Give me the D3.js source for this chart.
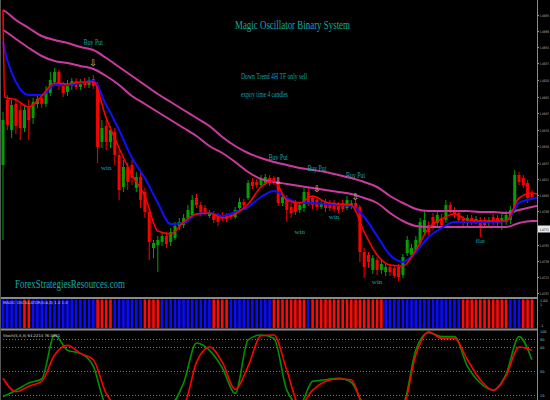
<!DOCTYPE html>
<html>
<head>
<meta charset="utf-8">
<script src="https://cdn.jsdelivr.net/npm/d3@7"></script>
<style>
body { margin: 0; background: #000; }
svg { display: block; }
</style>
</head>
<body>
<div id="chart"></div>
<script>
// price candles, one per bar
var opens = [1.4835,1.4900,1.4870,1.4896,1.4890,1.4872,1.4892,1.4882,1.4896,1.4902,1.4896,1.4907,1.4918,1.4928,1.4915,1.4908,1.4914,1.4919,1.4913,1.4918,1.4915,1.4921,
  1.4914,1.4858,1.4874,1.4858,1.4868,1.4845,1.4813,1.4833,1.4835,1.4812,1.4823,1.4808,1.4788,1.4752,1.4755,1.4758,1.4764,1.4758,1.4762,1.4774,1.4775,1.4782,1.4785,
  1.4802,1.4795,1.4792,1.4784,1.4786,1.4784,1.4785,1.4784,1.4785,1.4783,1.4792,1.4798,1.4802,1.4818,1.4818,1.4815,1.4817,1.4822,1.4822,1.4817,1.4797,1.4802,1.4793,
  1.4797,1.4790,1.4792,1.4808,1.4802,1.4800,1.4793,1.4798,1.4797,1.4796,1.4795,1.4797,1.4792,1.4794,1.4797,1.4793,1.4748,1.4745,1.4730,1.4740,1.4730,1.4728,1.4733,
  1.4732,1.4733,1.4725,1.4747,1.4745,1.4750,1.4757,1.4768,1.4775,1.4783,1.4777,1.4782,1.4780,1.4795,1.4790,1.4787,1.4781,1.4777,1.4782,1.4778,1.4780,1.4780,1.4777,
  1.4783,1.4782,1.4778,1.4778,1.4780,1.4790,1.4825,1.4822,1.4817,1.4807];
var highs = [1.4888,1.4905,1.4900,1.4902,1.4896,1.4895,1.4900,1.4902,1.4905,1.4906,1.4914,1.4928,1.4932,1.4930,1.4918,1.4920,1.4922,1.4922,1.4921,1.4922,1.4923,1.4925,
  1.4918,1.4880,1.4880,1.4874,1.4872,1.4850,1.4840,1.4837,1.4840,1.4828,1.4828,1.4812,1.4792,1.4760,1.4764,1.4768,1.4768,1.4772,1.4778,1.4782,1.4786,1.4795,1.4805,
  1.4806,1.4798,1.4795,1.4790,1.4789,1.4787,1.4788,1.4787,1.4787,1.4793,1.4802,1.4801,1.4820,1.4822,1.4821,1.4825,1.4826,1.4825,1.4824,1.4822,1.4806,1.4805,1.4797,
  1.4800,1.4798,1.4812,1.4812,1.4805,1.4803,1.4800,1.4801,1.4800,1.4800,1.4798,1.4800,1.4804,1.4800,1.4800,1.4795,1.4752,1.4748,1.4745,1.4743,1.4740,1.4737,1.4736,
  1.4735,1.4736,1.4746,1.4764,1.4756,1.4764,1.4782,1.4790,1.4779,1.4787,1.4788,1.4786,1.4800,1.4798,1.4793,1.4790,1.4784,1.4785,1.4785,1.4784,1.4783,1.4783,1.4783,
  1.4786,1.4785,1.4786,1.4789,1.4794,1.4830,1.4828,1.4825,1.4820,1.4810];
var lows = [1.4760,1.4870,1.4862,1.4866,1.4860,1.4868,1.4860,1.4876,1.4892,1.4892,1.4893,1.4904,1.4914,1.4910,1.4903,1.4904,1.4910,1.4910,1.4910,1.4912,1.4912,1.4911,
  1.4837,1.4852,1.4850,1.4852,1.4835,1.4800,1.4808,1.4810,1.4815,1.4808,1.4792,1.4782,1.4740,1.4742,1.4728,1.4754,1.4752,1.4754,1.4760,1.4770,1.4772,1.4778,1.4782,
  1.4792,1.4784,1.4785,1.4782,1.4777,1.4774,1.4779,1.4778,1.4780,1.4781,1.4790,1.4792,1.4800,1.4811,1.4812,1.4813,1.4815,1.4814,1.4815,1.4794,1.4794,1.4778,1.4782,
  1.4785,1.4787,1.4788,1.4794,1.4791,1.4790,1.4791,1.4788,1.4789,1.4788,1.4787,1.4788,1.4790,1.4791,1.4788,1.4738,1.4722,1.4732,1.4726,1.4725,1.4726,1.4724,1.4724,
  1.4722,1.4719,1.4722,1.4744,1.4742,1.4747,1.4754,1.4765,1.4765,1.4770,1.4774,1.4772,1.4777,1.4787,1.4782,1.4777,1.4774,1.4774,1.4775,1.4776,1.4763,1.4772,1.4774,
  1.4775,1.4774,1.4770,1.4775,1.4776,1.4787,1.4815,1.4812,1.4797,1.4800];
var closes = [1.4880,1.4875,1.4895,1.4874,1.4872,1.4890,1.4880,1.4898,1.4901,1.4896,1.4908,1.4920,1.4928,1.4914,1.4907,1.4916,1.4919,1.4913,1.4918,1.4915,1.4920,1.4914,
  1.4853,1.4872,1.4858,1.4870,1.4845,1.4810,1.4833,1.4818,1.4822,1.4823,1.4800,1.4788,1.4758,1.4757,1.4760,1.4764,1.4756,1.4768,1.4774,1.4778,1.4782,1.4790,1.4800,
  1.4795,1.4788,1.4788,1.4787,1.4780,1.4778,1.4782,1.4781,1.4783,1.4790,1.4798,1.4795,1.4817,1.4814,1.4815,1.4822,1.4823,1.4817,1.4818,1.4797,1.4803,1.4790,1.4787,
  1.4788,1.4795,1.4808,1.4797,1.4795,1.4793,1.4797,1.4792,1.4792,1.4791,1.4790,1.4791,1.4800,1.4797,1.4792,1.4748,1.4733,1.4738,1.4742,1.4730,1.4736,1.4733,1.4728,
  1.4724,1.4723,1.4743,1.4760,1.4752,1.4760,1.4778,1.4780,1.4768,1.4773,1.4785,1.4775,1.4795,1.4790,1.4785,1.4780,1.4777,1.4782,1.4778,1.4781,1.4773,1.4775,1.4780,
  1.4778,1.4777,1.4782,1.4785,1.4790,1.4825,1.4818,1.4815,1.4802,1.4803];

// moving averages and envelope, read at these bars
var maBars = [0,0.4,3,6,9,12,15,18,21,24,27,30,33,36,39,42,45,48,51,54,57,60,63,66,69,72,75,78,81,84,87,90,93,96,99,102,105,108,111,114,117,120,123,124.2];
var fastMA = [1.4990,1.4903,1.4900,1.4893,1.4904,1.4917,1.4916,1.4918,1.4918,1.4882,1.4852,1.4825,1.4804,1.4769,1.4766,1.4778,1.4786,1.4787,1.4782,1.4786,1.4796,1.4813,
  1.4819,1.4800,1.4797,1.4804,1.4798,1.4796,1.4795,1.4768,1.4745,1.4735,1.4734,1.4750,1.4772,1.4781,1.4786,1.4780,1.4779,1.4779,1.4779,1.4802,1.4807,1.4806];
var slowMA = [1.4958,1.4950,1.4918,1.4905,1.4905,1.4915,1.4915,1.4917,1.4919,1.4895,1.4870,1.4842,1.4822,1.4797,1.4776,1.4777,1.4786,1.4787,1.4784,1.4788,1.4793,1.4803,
  1.4809,1.4802,1.4797,1.4797,1.4796,1.4795,1.4794,1.4783,1.4764,1.4745,1.4738,1.4748,1.4763,1.4772,1.4778,1.4778,1.4778,1.4778,1.4779,1.4797,1.4801,1.4802];
var bandUpper = [1.4990,1.4989,1.4980,1.4972,1.4964,1.4960,1.4957,1.4953,1.4950,1.4942,1.4933,1.4924,1.4915,1.4906,1.4898,1.4890,1.4882,1.4874,1.4863,1.4854,1.4847,1.4842,
  1.4838,1.4835,1.4832,1.4830,1.4828,1.4825,1.4822,1.4818,1.4813,1.4804,1.4797,1.4791,1.4789,1.4789,1.4789,1.4789,1.4788,1.4788,1.4787,1.4790,1.4793,1.4794];
var bandLower = [1.4970,1.4969,1.4961,1.4952,1.4944,1.4939,1.4937,1.4934,1.4931,1.4924,1.4915,1.4904,1.4896,1.4888,1.4880,1.4872,1.4864,1.4854,1.4847,1.4838,1.4828,1.4821,
  1.4818,1.4816,1.4814,1.4812,1.4810,1.4808,1.4806,1.4802,1.4797,1.4787,1.4779,1.4774,1.4773,1.4773,1.4773,1.4773,1.4773,1.4773,1.4773,1.4777,1.4779,1.4779];

var priceTicks = [1.4985,1.4969,1.4953,1.4937,1.4920,1.4903,1.4887,1.4870,1.4854,1.4837,1.4821,1.4805,1.4789,1.4755,1.4739,1.4723,1.4707];
var lastPrice = 1.4771;

// signals
var putBars = [21, 64, 73, 82];
var putLabelPrice = [1.4958, 1.4843, 1.4832, 1.4825];
var putArrowPrice = [1.4938, 1.4820, 1.4812, 1.4804];
var resultBars = [24, 69, 77, 87, 111];
var resultPrice = [1.4833, 1.4769, 1.4784, 1.4719, 1.4760];
var resultText = ["win", "win", "win", "win", "flat"];

// magic oscillator colour per bar (B up, R down)
var oscColors = ("BBBBBRRBBBBBBBBBBBBBBBRRRRBBBBBBBRRRRBBBBBBBBBBBBRRRRBBBBBBBBBBRRRRRRRRB" +
  "RRRRRRRRRRRRRRRRRBBBBBBBBBBBBBBBBBBRRRRRRRRRRRBBBRRR").split("");
var oscTicks = ["1.00", "1", "-1"];

// stochastic, read at these bars
var stochBars = [0,3,6,9,12,15,18,21,24,27,30,33,36,39,42,45,48,51,54,57,60,63,66,69,72,75,78,81,84,87,90,93,96,99,102,105,108,111,114,117,120,123];
var stochK = [18,26,35,40,95,76,72,56,8,5,3,4,6,8,35,85,76,54,22,89,95,91,26,8,37,39,41,36,8,3,3,8,76,98,93,93,56,35,26,46,93,64];
var stochD = [41,24,31,37,70,82,72,64,22,5,3,3,4,6,8,61,80,61,27,56,94,95,51,7,26,37,40,39,5,2,2,5,70,99,91,91,64,39,26,44,80,76];
var stochLevels = [90, 80, 50, 20];
var stochTicks = [100, 90, 80, 50, 20];

var W = 550, H = 400;
var axisX = 537;
var labelRight = 549;
var serif = "'Liberation Serif', 'Times New Roman', serif";
var teal = "#12a9a9";

var svg = d3.select('#chart').append('svg').attr('width', W).attr('height', H).style('background', '#000');
var defs = svg.append('defs');
defs.append('clipPath').attr('id', 'mainClip').append('rect').attr('x', 0).attr('y', 0).attr('width', axisX).attr('height', 296);
defs.append('clipPath').attr('id', 'stochClip').append('rect').attr('x', 0).attr('y', 331).attr('width', axisX).attr('height', 69);

var xBar = d3.scaleLinear().domain([0, 124]).range([3, 536.2]);
var yPrice = d3.scaleLinear().domain([1.5, 1.4705]).range([0, 295]);
var yStoch = d3.scaleLinear().domain([0, 100]).range([411, 331]);

// ---- main panel
var main = svg.append('g').attr('clip-path', 'url(#mainClip)');

var candles = opens.map(function (o, i) { return { i: i, o: o, h: highs[i], l: lows[i], c: closes[i] }; });
var candleColor = function (d) { return d.c >= d.o ? '#00a000' : '#ff0000'; };

main.selectAll('line.wick').data(candles).enter().append('line')
    .attr('class', 'wick')
    .attr('x1', function (d) { return xBar(d.i); })
    .attr('x2', function (d) { return xBar(d.i); })
    .attr('y1', function (d) { return yPrice(d.h); })
    .attr('y2', function (d) { return yPrice(d.l); })
    .attr('stroke', candleColor)
    .attr('stroke-width', 1);

main.selectAll('rect.body').data(candles).enter().append('rect')
    .attr('class', 'body')
    .attr('x', function (d) { return xBar(d.i) - 1.5; })
    .attr('width', 3)
    .attr('y', function (d) { return yPrice(Math.max(d.o, d.c)); })
    .attr('height', function (d) { return Math.max(1, Math.abs(yPrice(d.o) - yPrice(d.c))); })
    .attr('fill', candleColor);

var priceLine = d3.line()
    .x(function (d) { return xBar(d[0]); })
    .y(function (d) { return yPrice(d[1]); })
    .curve(d3.curveMonotoneX);
var pairs = function (vals) { return maBars.map(function (b, i) { return [b, vals[i]]; }); };

[[bandUpper, '#cc3a9e', 2], [bandLower, '#cc3a9e', 2], [slowMA, '#1010ff', 2], [fastMA, '#ff0000', 1.6]].forEach(function (s) {
    main.append('path')
        .attr('d', priceLine(pairs(s[0])))
        .attr('fill', 'none')
        .attr('stroke', s[1])
        .attr('stroke-width', s[2]);
});

// signal labels
putBars.forEach(function (b, i) {
    svg.append('text')
        .attr('x', xBar(b)).attr('y', yPrice(putLabelPrice[i]) + 3)
        .attr('text-anchor', 'middle')
        .attr('font-family', serif).attr('font-size', 7.5)
        .attr('textLength', 19).attr('lengthAdjust', 'spacingAndGlyphs')
        .attr('fill', teal)
        .text('Buy Put');
    svg.append('text')
        .attr('x', xBar(b)).attr('y', yPrice(putArrowPrice[i]) + 4)
        .attr('text-anchor', 'middle')
        .attr('font-family', 'DejaVu Sans').attr('font-size', 9)
        .attr('fill', '#c8c8c8')
        .text('\u21E9');
});
resultBars.forEach(function (b, i) {
    svg.append('text')
        .attr('x', xBar(b)).attr('y', yPrice(resultPrice[i]) + 3)
        .attr('text-anchor', 'middle')
        .attr('font-family', serif).attr('font-size', 7)
        .attr('fill', teal)
        .text(resultText[i]);
});

svg.append('text')
    .attr('x', 235).attr('y', 29)
    .attr('font-family', serif).attr('font-size', 12)
    .attr('textLength', 115).attr('lengthAdjust', 'spacingAndGlyphs')
    .attr('fill', teal)
    .text('Magic Oscillator Binary System');
svg.append('text')
    .attr('x', 241).attr('y', 79)
    .attr('font-family', serif).attr('font-size', 7.5)
    .attr('textLength', 66).attr('lengthAdjust', 'spacingAndGlyphs')
    .attr('fill', teal)
    .text('Down Trend 4H TF only sell');
svg.append('text')
    .attr('x', 241).attr('y', 97)
    .attr('font-family', serif).attr('font-size', 7.5)
    .attr('textLength', 47).attr('lengthAdjust', 'spacingAndGlyphs')
    .attr('fill', teal)
    .text('expiry time 4 candles');
svg.append('text')
    .attr('x', 15).attr('y', 288)
    .attr('font-family', serif).attr('font-size', 12.5)
    .attr('textLength', 110).attr('lengthAdjust', 'spacingAndGlyphs')
    .attr('fill', teal)
    .text('ForexStrategiesResources.com');

// price axis
var yAxis = d3.axisRight(yPrice).tickValues(priceTicks).tickSize(2).tickFormat(d3.format('.4f'));
var gAxis = svg.append('g').attr('transform', 'translate(' + axisX + ',0)').call(yAxis);
gAxis.select('.domain').remove();
gAxis.selectAll('line').attr('stroke', '#999');
gAxis.selectAll('text').attr('x', labelRight - axisX).attr('text-anchor', 'end')
    .attr('font-size', 3.4).attr('font-family', 'DejaVu Sans').attr('fill', '#bbb')
    .attr('textLength', 9.5).attr('lengthAdjust', 'spacingAndGlyphs');

svg.append('rect').attr('x', axisX + 1).attr('y', yPrice(lastPrice) - 3.5).attr('width', 12).attr('height', 7).attr('fill', '#e8e8e8');
svg.append('text').attr('x', labelRight).attr('y', yPrice(lastPrice) + 1.5).attr('text-anchor', 'end')
    .attr('font-size', 3.4).attr('font-family', 'DejaVu Sans').attr('fill', '#000')
    .attr('textLength', 9.5).attr('lengthAdjust', 'spacingAndGlyphs')
    .text(d3.format('.4f')(lastPrice));

// ---- oscillator panel
var osc = svg.append('g');
osc.selectAll('rect').data(oscColors).enter().append('rect')
    .attr('x', function (d, i) { return xBar(i) - 1.3; })
    .attr('width', 2.6)
    .attr('y', 299.5)
    .attr('height', 28.5)
    .attr('fill', function (d) { return d === 'B' ? '#0a0aff' : '#ff0a0a'; });
svg.append('text').attr('x', 3).attr('y', 304)
    .attr('font-size', 3.8).attr('font-family', 'DejaVu Sans').attr('fill', '#ddd')
    .text('MAGIC OSCILLATOR(0.8,0) 1.0 1.0');
[301.5, 305.5, 327].forEach(function (y, i) {
    svg.append('text').attr('x', axisX + 3).attr('y', y)
        .attr('font-size', 3.4).attr('font-family', 'DejaVu Sans').attr('fill', '#bbb')
        .text(oscTicks[i]);
});

// separators
svg.append('rect').attr('x', 0).attr('y', 297).attr('width', axisX).attr('height', 2).attr('fill', '#8a8a8a');
svg.append('rect').attr('x', 0).attr('y', 328.5).attr('width', axisX).attr('height', 2).attr('fill', '#8a8a8a');

// ---- stochastic panel
var stoch = svg.append('g').attr('clip-path', 'url(#stochClip)');
stochLevels.forEach(function (lv) {
    stoch.append('line')
        .attr('x1', 0).attr('x2', axisX)
        .attr('y1', Math.round(yStoch(lv)) + 0.5).attr('y2', Math.round(yStoch(lv)) + 0.5)
        .attr('stroke', '#1a9a9a').attr('stroke-width', 1).attr('stroke-dasharray', '1,2');
});
var stochLine = d3.line()
    .x(function (d) { return xBar(d[0]); })
    .y(function (d) { return yStoch(d[1]); })
    .curve(d3.curveMonotoneX);
[[stochK, '#009000'], [stochD, '#ff0000']].forEach(function (s) {
    stoch.append('path')
        .attr('d', stochLine(stochBars.map(function (b, i) { return [b, s[0][i]]; })))
        .attr('fill', 'none')
        .attr('stroke', s[1])
        .attr('stroke-width', 1.6);
});
svg.append('text').attr('x', 3).attr('y', 337)
    .attr('font-size', 3.8).attr('font-family', 'DejaVu Sans').attr('fill', '#ddd')
    .text('Stoch(5,3,3) 64.2214 76.0851');
stochTicks.forEach(function (t) {
    svg.append('text').attr('x', axisX + 3).attr('y', yStoch(t) + 1.5)
        .attr('font-size', 3.4).attr('font-family', 'DejaVu Sans').attr('fill', '#bbb')
        .text(t);
});

// frame lines
svg.append('line').attr('x1', axisX + 0.5).attr('x2', axisX + 0.5).attr('y1', 0).attr('y2', H).attr('stroke', '#8a8a8a');
svg.append('line').attr('x1', 0.5).attr('x2', 0.5).attr('y1', 0).attr('y2', H).attr('stroke', '#555');
</script>
</body>
</html>
